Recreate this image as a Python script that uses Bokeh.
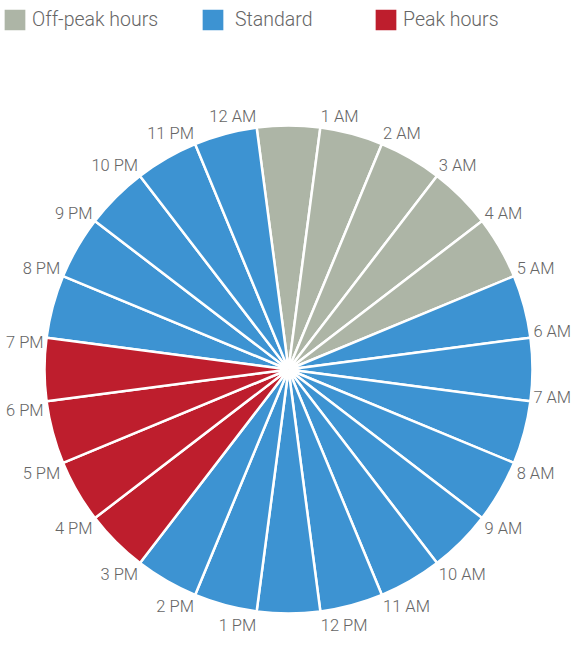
import math
from bokeh.plotting import figure
from bokeh.models import ColumnDataSource, Range1d, Legend, LegendItem
from bokeh.core.properties import value
from bokeh.embed import file_html
from bokeh.resources import INLINE

# ---- data ----
hour_labels = ["12 AM", "1 AM", "2 AM", "3 AM", "4 AM", "5 AM", "6 AM", "7 AM",
               "8 AM", "9 AM", "10 AM", "11 AM", "12 PM", "1 PM", "2 PM", "3 PM",
               "4 PM", "5 PM", "6 PM", "7 PM", "8 PM", "9 PM", "10 PM", "11 PM"]
slot_hours = [1, 1, 1, 1, 1, 1, 1, 1, 1, 1, 1, 1,
              1, 1, 1, 1, 1, 1, 1, 1, 1, 1, 1, 1]
tariff = ["Off-peak hours", "Off-peak hours", "Off-peak hours", "Off-peak hours",
          "Off-peak hours", "Standard", "Standard", "Standard", "Standard",
          "Standard", "Standard", "Standard", "Standard", "Standard", "Standard",
          "Peak hours", "Peak hours", "Peak hours", "Peak hours",
          "Standard", "Standard", "Standard", "Standard", "Standard"]
categories = ["Off-peak hours", "Standard", "Peak hours"]
category_colors = ["#adb5a6", "#3d93d2", "#be1e2d"]

# ---- layout ----
W, H = 572, 635
CX, CY = 288, H - 369
R = 244
GAP = 3
FONT = "Roboto Light, Roboto"
TEXT_COLOR = "#666666"

p = figure(width=W, height=H, output_backend="svg", toolbar_location=None,
           x_range=Range1d(0, W), y_range=Range1d(0, H),
           x_axis_location=None, y_axis_location=None, min_border=0)
p.grid.visible = False
p.outline_line_color = None
p.background_fill_color = "white"
p.border_fill_color = "white"

total = float(sum(slot_hours))
offset = 360.0 * slot_hours[0] / total / 2.0  # first slot centred on top
starts_c, ends_c = [], []
acc = 0.0
for v in slot_hours:
    s = acc / total * 360.0 - offset
    acc += v
    e = acc / total * 360.0 - offset
    starts_c.append(s)
    ends_c.append(e)

renderers = {}
for cat, col in zip(categories, category_colors):
    idx = [i for i, t in enumerate(tariff) if t == cat]
    src = ColumnDataSource(dict(
        start=[math.radians(90 - ends_c[i]) for i in idx],
        end=[math.radians(90 - starts_c[i]) for i in idx],
    ))
    r = p.wedge(x=CX, y=CY, radius=R, start_angle="start", end_angle="end",
                direction="anticlock", fill_color=col, line_color="white",
                line_width=2.5, source=src)
    renderers[cat] = r

# labels at slot start boundaries
lx, ly, la, lt = [], [], [], []
for i, lab in enumerate(hour_labels):
    a = math.radians(starts_c[i])
    sn, cs = math.sin(a), math.cos(a)
    ax = CX + (R + GAP) * sn
    ay = CY + (R + GAP) * cs
    if sn > 0.05:
        align = "left"
    elif sn < -0.05:
        align = "right"
    else:
        align = "center"
    # vertical shift in screen pixels (positive = downwards)
    if cs > 0.7:
        dy = -8
    elif cs > 0.2:
        dy = -6
    elif cs >= -0.2:
        if sn > 0:
            dy = -6 if cs > 0 else -4
        else:
            dy = 5 if cs > 0 else 9
    else:
        dy = 11 if cs < -0.95 else 9
    lx.append(ax)
    ly.append(ay - dy)
    la.append(align)
    lt.append(lab)

lsrc = ColumnDataSource(dict(x=lx, y=ly, text=lt, align=la))
p.text(x="x", y="y", text="text", text_align="align", text_baseline="middle",
       text_font=value(FONT), text_font_size="16.5px", text_color=TEXT_COLOR,
       source=lsrc)

# legend: one box per category
legend_x = [0, 198, 371]
legend_gap = [3, 8, 3]
for cat, lxp, gap in zip(categories, legend_x, legend_gap):
    leg = Legend(items=[LegendItem(label=cat, renderers=[renderers[cat]])],
                 location=(lxp, H - 34), orientation="horizontal",
                 glyph_width=29, glyph_height=29, label_standoff=gap,
                 label_text_font=FONT, label_text_font_size="19.5px",
                 label_text_color=TEXT_COLOR, border_line_color=None,
                 background_fill_alpha=0, padding=0, margin=0, spacing=0)
    p.add_layout(leg)

open("out.html", "w").write(file_html(p, INLINE))
